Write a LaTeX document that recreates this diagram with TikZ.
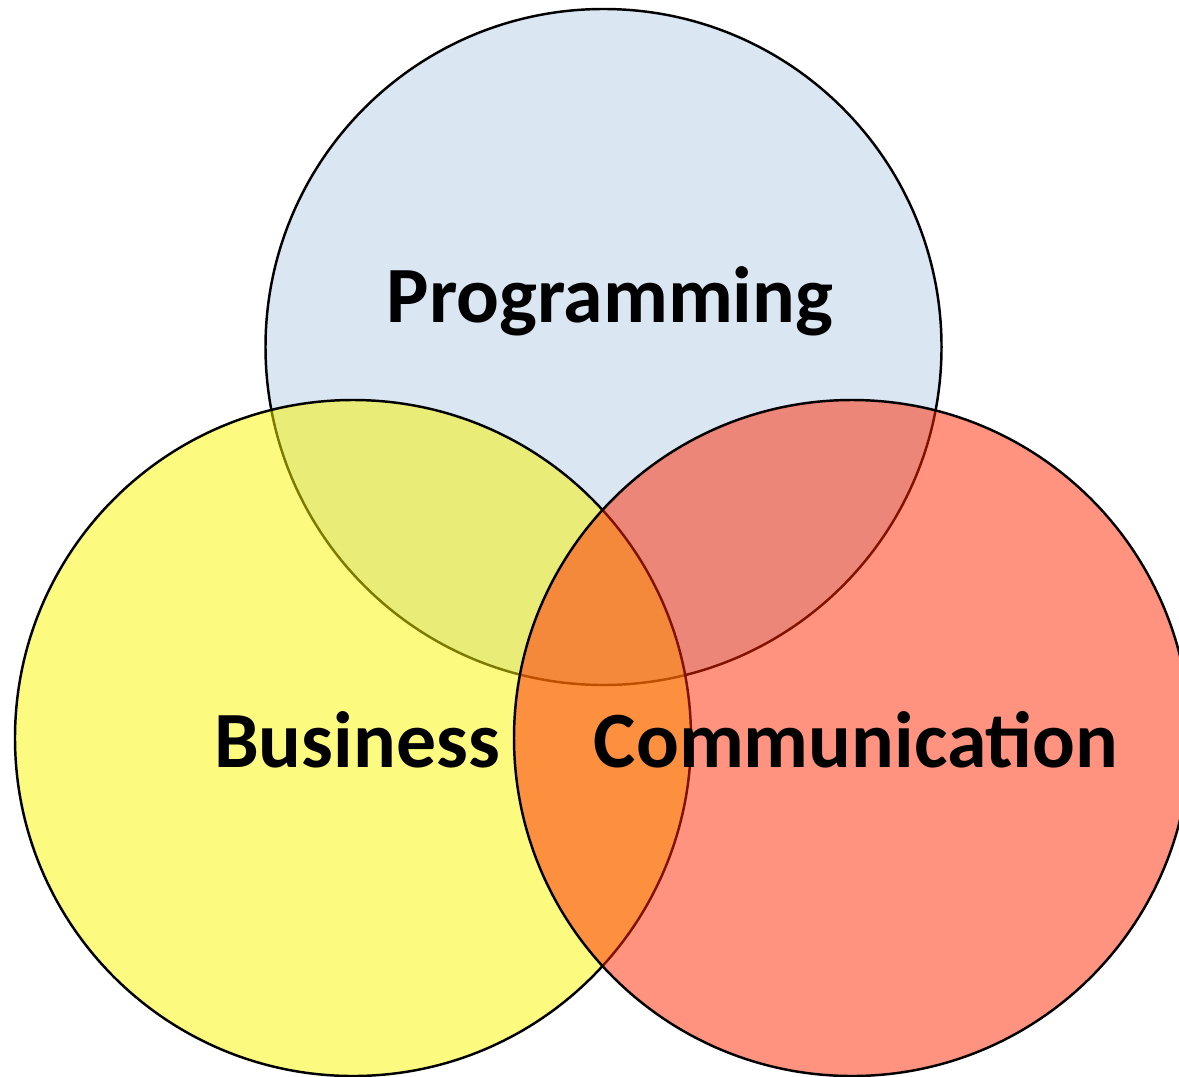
\documentclass[tikz,border=0pt]{standalone}
\usepackage{fontspec}
\setmainfont{Carlito}
\definecolor{progblue}{RGB}{218,230,242}
\definecolor{busyellow}{RGB}{249,245,0}
\definecolor{comred}{RGB}{255,39,0}
\tikzset{
	setcircle/.style = {draw = black, shape = circle, line width = 0.7pt,
						inner sep = 0pt, minimum size = 6.76cm},
	setlabel/.style = {anchor = base, font = \fontsize{22.7}{27}\selectfont\bfseries}
}
\begin{document}
\begin{tikzpicture}
	\useasboundingbox (0,0) rectangle (11.79,10.76);

	\draw (6.035,7.29) node[setcircle,
					 fill = progblue] (P) {};
	
	\draw (3.53,3.38) node[setcircle,
					 fill = busyellow, fill opacity = 0.5] (B) {};
					 
	\draw (8.52,3.38) node[setcircle,
					 fill = comred, fill opacity = 0.5] (C) {};
	
	\draw (6.10,7.54) node[setlabel] (Plabel) {Programming};
	\draw (3.57,3.09) node[setlabel] (Blabel) {Business};
	\draw (8.56,3.09) node[setlabel] (Clabel) {Communication};
\end{tikzpicture}
\end{document}
